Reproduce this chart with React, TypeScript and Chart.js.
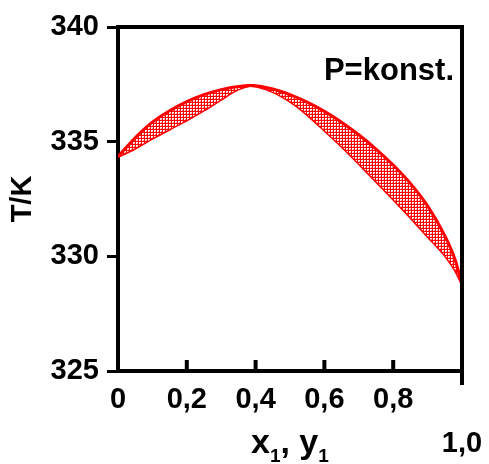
import React, { useEffect, useRef } from "react";
import { Chart, registerables } from "chart.js";

Chart.register(...registerables);

// Upper curve (dew curve, vapour composition y1)
const vaporX = [0, 0.03, 0.06, 0.1, 0.15, 0.2, 0.25, 0.3, 0.35, 0.385, 0.45, 0.5, 0.55, 0.6, 0.65, 0.7, 0.75, 0.8, 0.85, 0.9, 0.95, 0.98, 1.0];
const vaporT = [334.35, 334.85, 335.32, 335.85, 336.35, 336.75, 337.05, 337.27, 337.41, 337.45, 337.3, 337.05, 336.72, 336.32, 335.85, 335.3, 334.68, 333.98, 333.18, 332.2, 330.9, 329.85, 328.8];

// Lower curve (boiling curve, liquid composition x1)
const liquidX = [0, 0.05, 0.1, 0.15, 0.2, 0.25, 0.3, 0.34, 0.37, 0.385, 0.43, 0.48, 0.52, 0.56, 0.6, 0.65, 0.7, 0.75, 0.8, 0.85, 0.9, 0.95, 0.98, 1.0];
const liquidT = [334.35, 334.72, 335.15, 335.55, 335.95, 336.38, 336.85, 337.22, 337.4, 337.45, 337.3, 336.95, 336.55, 336.05, 335.5, 334.8, 334.05, 333.28, 332.5, 331.7, 330.88, 330.05, 329.4, 328.8];

const xTickValues = [0, 0.2, 0.4, 0.6, 0.8, 1.0];
const xTickLabels = ["0", "0,2", "0,4", "0,6", "0,8", ""];
const yTickValues = [325, 330, 335, 340];
const yTickLabels = ["325", "330", "335", "340"];
const lastXLabel = "1,0";
const yTitle = "T/K";
const noteText = "P=konst.";

const FONT = "'Liberation Sans', Arial, sans-serif";

function makePattern(): CanvasPattern | string {
  const c = document.createElement("canvas");
  c.width = 3;
  c.height = 3;
  const g = c.getContext("2d");
  if (!g) return "#ff0000";
  g.fillStyle = "#ff0000";
  g.fillRect(0, 0, 3, 3);
  g.fillStyle = "#ffffff";
  g.fillRect(1, 1, 2, 1);
  g.fillRect(1, 2, 1, 1);
  g.fillStyle = "#ff9090";
  g.fillRect(2, 2, 1, 1);
  const p = g.createPattern(c, "repeat");
  return p || "#ff0000";
}

const decorPlugin = {
  id: "decor",
  afterDraw(chart: any) {
    const ctx = chart.ctx as CanvasRenderingContext2D;
    const { left, right, top, bottom } = chart.chartArea;
    const xs = chart.scales.x;
    ctx.save();
    ctx.strokeStyle = "#000";
    ctx.lineWidth = 4;
    ctx.lineCap = "butt";
    // top and right frame
    ctx.beginPath();
    ctx.moveTo(left - 2, top);
    ctx.lineTo(right + 2, top);
    ctx.moveTo(right, top);
    ctx.lineTo(right, bottom + 14);
    ctx.stroke();
    // inward x ticks
    ctx.beginPath();
    for (let i = 1; i < xTickValues.length - 1; i++) {
      const px = xs.getPixelForValue(xTickValues[i]);
      ctx.moveTo(px, bottom);
      ctx.lineTo(px, bottom - 11);
    }
    ctx.stroke();

    ctx.fillStyle = "#000";
    // note
    ctx.font = `bold 31px ${FONT}`;
    ctx.textAlign = "right";
    ctx.textBaseline = "alphabetic";
    ctx.fillText(noteText, 454, 80);

    // last x label
    ctx.font = `bold 29px ${FONT}`;
    ctx.textAlign = "center";
    ctx.fillText(lastXLabel, xs.getPixelForValue(1), 452);

    // x title with subscripts
    ctx.textAlign = "left";
    let cx = 251;
    const base = 453;
    const big = `bold 34px ${FONT}`;
    const small = `bold 19px ${FONT}`;
    const parts: [string, string, number][] = [
      ["x", big, 0],
      ["1", small, 9],
      [",", big, 0],
      [" ", big, 0],
      ["y", big, 0],
      ["1", small, 9],
    ];
    for (const [t, f, dy] of parts) {
      ctx.font = f;
      ctx.fillText(t, cx, base + dy);
      cx += ctx.measureText(t).width;
    }
    ctx.restore();
  },
};

export default function App() {
  const ref = useRef<HTMLCanvasElement>(null);
  useEffect(() => {
    if (!ref.current) return;
    const pattern = makePattern();
    const chart = new Chart(ref.current, {
      type: "line",
      data: {
        datasets: [
          {
            label: "y1",
            data: vaporX.map((x, i) => ({ x, y: vaporT[i] })),
            borderColor: "#ff0000",
            borderWidth: 3,
            backgroundColor: pattern as any,
            fill: { target: 1 },
            pointRadius: 0,
            cubicInterpolationMode: "monotone",
          },
          {
            label: "x1",
            data: liquidX.map((x, i) => ({ x, y: liquidT[i] })),
            borderColor: "#ff0000",
            borderWidth: 3,
            fill: false,
            pointRadius: 0,
            cubicInterpolationMode: "monotone",
          },
        ],
      },
      options: {
        animation: false,
        responsive: false,
        layout: { padding: { left: 0, top: 27, right: 27, bottom: 0 } },
        plugins: {
          legend: { display: false },
          tooltip: { enabled: false },
        },
        scales: {
          x: {
            type: "linear",
            min: 0,
            max: 1,
            afterBuildTicks: (s: any) => {
              s.ticks = xTickValues.map((v) => ({ value: v }));
            },
            afterFit: (s: any) => {
              s.height = 93;
            },
            ticks: {
              callback: (_v: any, i: number) => xTickLabels[i],
              font: { family: FONT, size: 29, weight: "bold" },
              color: "#000",
              padding: 12,
              maxRotation: 0,
              autoSkip: false,
            },
            grid: { drawOnChartArea: false, drawTicks: false },
            border: { color: "#000", width: 4 },
          },
          y: {
            type: "linear",
            min: 325,
            max: 340,
            afterBuildTicks: (s: any) => {
              s.ticks = yTickValues.map((v) => ({ value: v }));
            },
            afterFit: (s: any) => {
              s.width = 118;
            },
            ticks: {
              callback: (_v: any, i: number) => yTickLabels[i],
              font: { family: FONT, size: 29, weight: "bold" },
              color: "#000",
              padding: 8,
              autoSkip: false,
            },
            grid: {
              drawOnChartArea: false,
              tickLength: 11,
              tickWidth: 3,
              tickColor: "#000",
            },
            border: { color: "#000", width: 4 },
            title: {
              display: true,
              text: yTitle,
              color: "#000",
              font: { family: FONT, size: 29, weight: "bold" },
              padding: { top: 6, bottom: 0 },
            },
          },
        },
      },
      plugins: [decorPlugin],
    });
    return () => chart.destroy();
  }, []);
  return (
    <div style={{ position: "absolute", left: 0, top: 0, width: 489, height: 464, background: "#fff" }}>
      <canvas ref={ref} width={489} height={464} style={{ display: "block" }} />
    </div>
  );
}
